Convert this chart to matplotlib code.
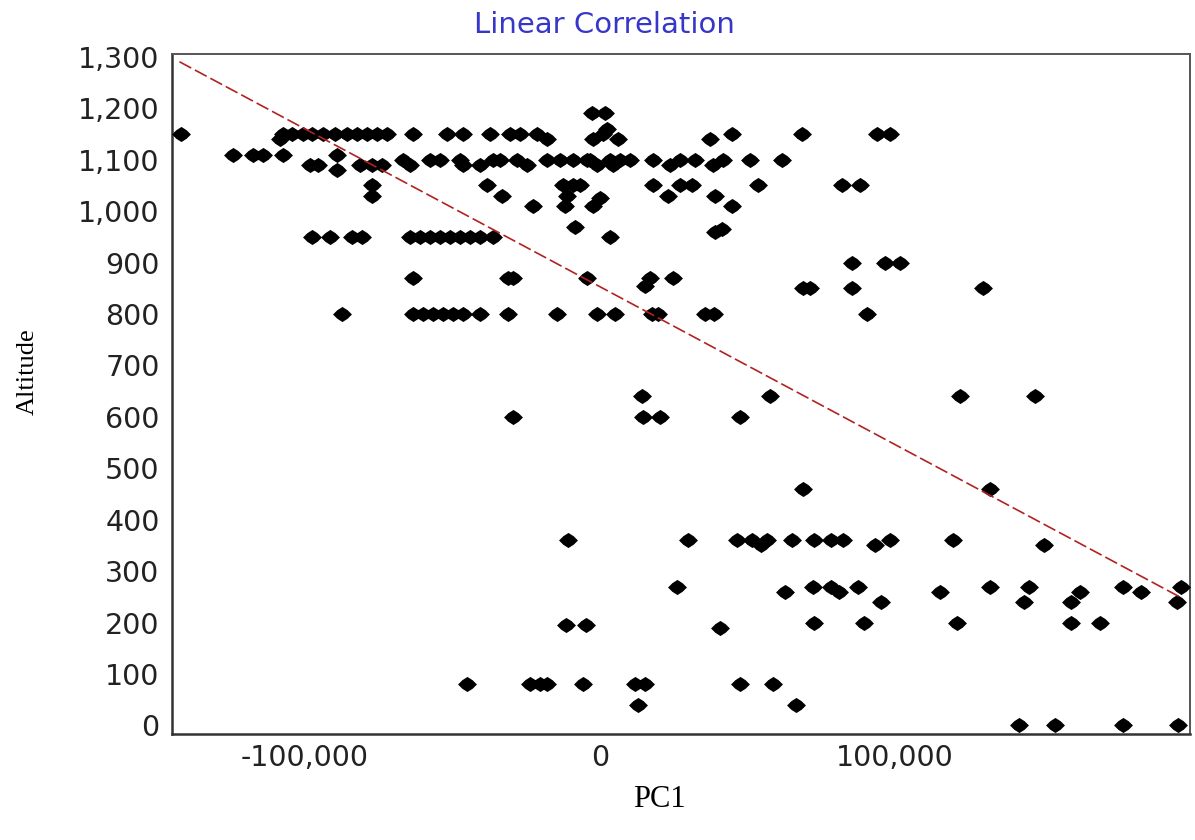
import matplotlib
matplotlib.use("Agg")
import matplotlib.pyplot as plt
from matplotlib.ticker import FuncFormatter
import numpy as np

# PC1 scores (thousands) and altitude
pc1_k = [
    -2.7, 1.7,                                                    # 1190
    2.4,                                                          # 1160
    -142, -107.5, -104.4, -100.7, -97.6, -93.9, -89.8, -85.8, -82.4, -79, -75.6, -72.2,
    -63.4, -51.9, -46.4, -37.3, -30.5, -27.1, -21.4, 1, 44.7, 68.5, 93.9, 98.3,   # 1150
    -108.5, -18, -2.4, 6.1, 37.3,                                 # 1140
    -124.4, -117.6, -114.2, -107.5, -89.2,                        # 1110
    -66.8, -57.6, -54.2, -47.5, -36.3, -33.9, -28.1, -18, -13.6, -9.2, -4.4, -3.4,
    3.4, 6.8, 10.2, 18, 27.1, 32.2, 41.7, 50.8, 61.7,             # 1100
    -98.3, -95.6, -81.4, -77.3, -73.9, -64.4, -46.4, -40.7, -24.7, -1, 4.4, 23.7, 38.3,  # 1090
    -89.2,                                                        # 1080
    -77.3, -38.3, -12.5, -9.2, -6.8, 18, 27.1, 31.2, 53.6, 82, 88.1,   # 1050
    -77.3, -33.2, -11.2, 0, 23.1, 39,                             # 1030
    -22.7, -11.9, -2.4, 44.7,                                     # 1010
    -8.5, 39, 41.4,                                               # ~965
    -97.6, -91.5, -84.1, -80.7, -64.4, -61, -57.6, -54.2, -50.8, -47.5, -44.1, -40.7,
    -36.3, 3.4,                                                   # 950
    85.4, 96.6, 101.7,                                            # 900
    -63.4, -31.2, -29.5, -4.4, 16.9, 24.7,                        # 870
    15.3,                                                         # 855
    68.8, 71.2, 85.4, 129.8,                                      # 850
    -87.5, -63.4, -60, -56.6, -53.2, -49.8, -46.4, -40.7, -31.2, -14.6, -1, 5.1,
    17.6, 19.7, 35.6, 38.6, 90.5,                                 # 800
    14.2, 57.6, 122, 147.5,                                       # 640
    -29.5, 14.6, 20.3, 47.5,                                      # 600
    68.8, 132.2,                                                  # 460
    -10.8, 29.8, 46.4, 51.5, 56.6, 65.1, 72.5, 78.3, 82.4, 98.3, 119.7,   # 360
    54.6, 93.2, 150.5,                                            # 350
    26.1, 72.2, 78.3, 87.5, 132.2, 145.4, 177.3, 197,             # 270
    62.7, 81, 115.3, 162.7, 183.4,                                # 260
    95.3, 143.7, 159.7, 195.6,                                    # 240
    72.5, 89.5, 121, 159.7, 169.5,                                # 200
    -11.5, -4.7,                                                  # 195
    40.7,                                                         # 190
    -45.1, -23.7, -20.3, -18, -5.8, 11.9, 15.3, 47.5, 58.6,       # 80
    12.9, 66.4,                                                   # 40
    142, 154.2, 177.3, 195.9,                                     # 0
]

altitude = (
    [1190] * 2 + [1160] * 1 + [1150] * 24 + [1140] * 5 + [1110] * 5 + [1100] * 21
    + [1090] * 13 + [1080] * 1 + [1050] * 11 + [1030] * 3 + [1025] + [1030] * 2
    + [1010] * 4 + [970, 960, 965] + [950] * 14 + [900] * 3 + [870] * 6 + [855]
    + [850] * 4 + [800] * 17 + [640] * 4 + [600] * 4 + [460] * 2 + [360] * 11
    + [350] * 3 + [270] * 8 + [260] * 5 + [240] * 4 + [200] * 5 + [195] * 2
    + [190] + [80] * 9 + [40] * 2 + [0] * 4
)

pc1 = np.array(pc1_k) * 1000

# fitted line (altitude = intercept + slope * PC1)
fit_intercept = 853
fit_slope = -0.00307
fit_x = [-142500, 196500]

x_ticks = [-100000, 0, 100000]
y_ticks = list(range(0, 1301, 100))

fig = plt.figure(figsize=(11.95, 8.4), dpi=100)
ax = fig.add_axes([0.144, 0.126, 0.852, 0.810])

diamond = [(-1, 0), (-0.55, 0.45), (0, 0.8), (0.55, 0.45), (1, 0),
           (0.55, -0.45), (0, -0.8), (-0.55, -0.45), (-1, 0)]
ax.scatter(pc1, altitude, marker=diamond, s=185, color="black", linewidths=0, zorder=3)

fx = np.array(fit_x)
ax.plot(fx, fit_intercept + fit_slope * fx, color="#b22222", linewidth=1.2,
        linestyle=(0, (8, 2.5)), zorder=4)

ax.set_xlim(-145000, 200000)
ax.set_ylim(-17, 1306)
ax.set_xticks(x_ticks)
ax.set_yticks(y_ticks)
ax.xaxis.set_major_formatter(FuncFormatter(lambda v, _: f"{v:,.0f}"))
ax.yaxis.set_major_formatter(FuncFormatter(lambda v, _: f"{v:,.0f}"))
ax.tick_params(axis="both", length=0, labelsize=20.5, labelcolor="#222222")
ax.tick_params(axis="y", pad=9)
ax.tick_params(axis="x", pad=7)
for lab in ax.get_xticklabels() + ax.get_yticklabels():
    lab.set_family("DejaVu Sans")

for side in ["left", "bottom"]:
    ax.spines[side].set_color("#333333")
    ax.spines[side].set_linewidth(1.8)
for side in ["top", "right"]:
    ax.spines[side].set_color("#555555")
    ax.spines[side].set_linewidth(1.4)

fig.text(0.506, 0.970, "Linear Correlation", ha="center", va="center",
         fontsize=21, color="#3636c8", family="DejaVu Sans")
fig.text(0.023, 0.557, "Altitude", rotation=90, ha="center", va="center",
         fontsize=19, family="Liberation Serif")
fig.text(0.552, 0.048, "PC1", ha="center", va="center",
         fontsize=22, family="Liberation Serif")

fig.savefig("out.png", dpi=100, facecolor="white")
